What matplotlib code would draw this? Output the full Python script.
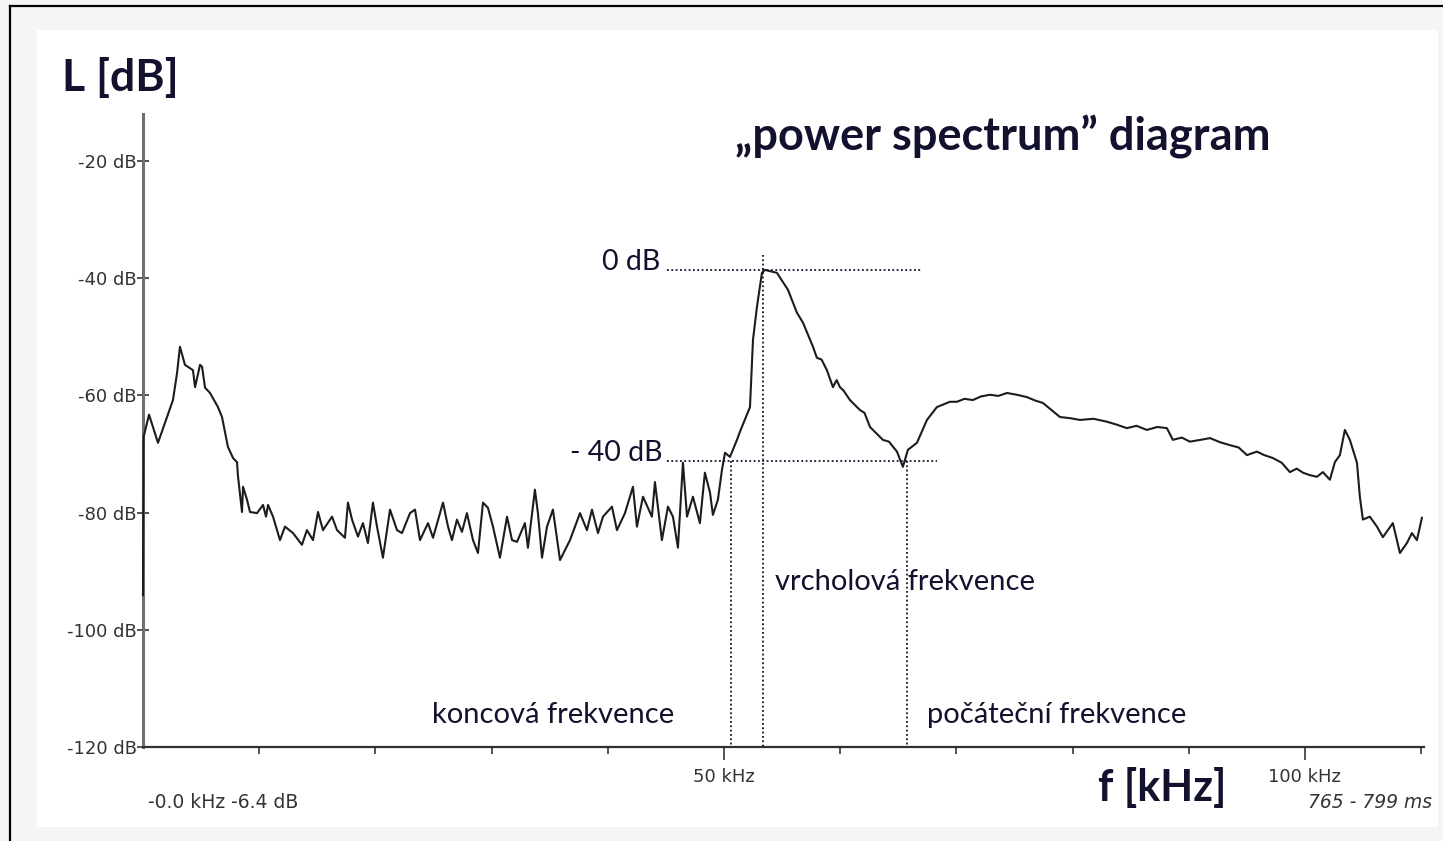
import matplotlib
matplotlib.use("Agg")
from matplotlib import pyplot as plt
from matplotlib.patches import Rectangle
from matplotlib.lines import Line2D

# spectrum: frequency [kHz] and level [dB]
freq_khz = [0.0, 0.05, 0.52, 1.29, 2.58, 2.93, 3.18, 3.61, 4.30, 4.48, 4.91, 5.08, 5.34, 5.77,
            6.45, 6.80, 7.31, 7.75, 8.09, 8.18, 8.52, 8.61, 8.95, 9.21, 9.81, 10.33, 10.59,
            10.76, 11.19, 11.79, 12.22, 12.91, 13.68, 14.11, 14.63, 15.06, 15.49, 16.27,
            16.70, 17.38, 17.64, 17.99, 18.50, 18.93, 19.36, 19.79, 20.14, 20.65, 21.26,
            21.86, 22.29, 22.98, 23.41, 23.84, 24.53, 24.96, 25.82, 26.25, 26.59, 27.02,
            27.45, 27.88, 28.40, 28.83, 29.26, 29.69, 30.12, 30.72, 31.33, 31.76, 32.19,
            32.87, 33.13, 33.73, 33.99, 34.34, 34.77, 35.28, 35.89, 36.75, 37.61, 38.21,
            38.64, 39.16, 39.59, 40.36, 40.79, 41.48, 42.17, 42.51, 43.03, 43.80, 44.06,
            44.66, 45.18, 45.61, 46.04, 46.47, 46.82, 47.33, 47.93, 48.36, 48.80, 49.05,
            49.48, 49.83, 50.09, 50.52, 51.12, 51.38, 52.24, 52.50, 52.84, 53.27, 53.53,
            54.56, 55.51, 56.28, 56.80, 57.66, 58.00, 58.40, 58.86, 59.38, 59.70, 59.98,
            60.30, 60.84, 61.70, 62.10, 62.57, 63.68, 64.20, 64.89, 65.40, 65.83, 66.61,
            67.47, 68.33, 69.45, 70.05, 70.70, 71.43, 72.10, 72.89, 73.60, 74.36, 75.20,
            76.08, 76.80, 77.45, 78.92, 79.80, 80.64, 81.80, 82.96, 83.80, 84.68, 85.50,
            86.40, 87.30, 88.12, 88.64, 89.40, 90.10, 91.00, 91.83, 92.70, 93.55, 94.30,
            95.01, 95.87, 96.50, 97.25, 98.00, 98.71, 99.30, 99.83, 100.40, 101.03,
            101.55, 102.15, 102.58, 103.01, 103.44, 103.87, 104.48, 104.73, 104.99,
            105.59, 106.20, 106.71, 107.57, 108.18, 108.78, 109.21, 109.64, 110.07]
level_db = [-94.1, -67.1, -63.3, -68.1, -60.8, -56.2, -51.7, -54.8, -55.7, -58.6, -54.8, -55.1,
            -58.7, -59.6, -62.0, -63.7, -68.8, -70.7, -71.4, -73.9, -79.9, -75.6, -77.8, -79.9,
            -80.1, -78.7, -80.7, -78.7, -80.7, -84.7, -82.4, -83.5, -85.5, -83.0, -84.7, -79.9,
            -83.0, -80.7, -83.0, -84.3, -78.3, -81.2, -84.1, -81.8, -85.2, -78.3, -82.4, -87.7,
            -79.5, -83.0, -83.5, -80.1, -79.5, -84.7, -81.8, -84.3, -78.3, -82.4, -84.7, -81.2,
            -83.3, -80.1, -84.7, -86.9, -78.3, -79.2, -82.4, -87.7, -80.7, -84.7, -85.0, -81.8,
            -86.0, -76.1, -80.1, -87.7, -82.4, -79.5, -88.1, -84.7, -80.1, -83.0, -79.5, -83.5,
            -80.7, -79.0, -83.0, -80.1, -75.6, -82.4, -77.3, -80.7, -74.8, -84.7, -79.0, -80.7,
            -86.0, -71.5, -80.7, -77.3, -81.8, -73.2, -76.6, -80.4, -77.8, -72.7, -69.8, -70.5,
            -67.6, -66.2, -62.0, -50.5, -44.9, -39.1, -38.6, -39.1, -42.0, -45.9, -47.6, -51.7,
            -53.6, -53.9, -55.7, -58.6, -57.4, -58.6, -59.2, -60.8, -62.5, -63.0, -65.4, -67.6,
            -67.9, -69.6, -72.2, -69.3, -68.1, -64.2, -62.0, -61.1, -61.1, -60.6, -60.8, -60.2,
            -59.9, -60.1, -59.6, -59.9, -60.3, -60.9, -61.3, -63.7, -63.9, -64.2, -64.0, -64.5,
            -65.0, -65.6, -65.2, -65.9, -65.4, -65.6, -67.6, -67.2, -67.9, -67.6, -67.3, -68.0,
            -68.5, -68.9, -70.2, -69.6, -70.2, -70.7, -71.5, -73.1, -72.5, -73.2, -73.6, -73.9,
            -73.1, -74.4, -71.4, -70.2, -65.9, -67.6, -71.5, -77.3, -81.2, -80.7, -82.4, -84.2,
            -81.8, -86.9, -85.2, -83.5, -84.7, -80.9]

y_ticks = [-20, -40, -60, -80, -100, -120]
y_tick_labels = ["-20 dB", "-40 dB", "-60 dB", "-80 dB", "-100 dB", "-120 dB"]
x_major = [50, 100]
x_major_labels = ["50 kHz", "100 kHz"]
x_minor = [10, 20, 30, 40, 60, 70, 80, 90, 110]

# annotation levels / frequencies
peak_db = -38.6
low_db = -71.2
end_khz = 50.6
peak_khz = 53.36
start_khz = 65.75

navy = "#12122e"
ann_font = ["Lato", "DejaVu Sans"]
small_font = "DejaVu Sans"

fig = plt.figure(figsize=(14.43, 8.41), dpi=100, facecolor="#f5f5f5")
W, H = 1443, 841
fig.patches.append(Rectangle((37 / W, 1 - 827 / H), (1438 - 37) / W, (827 - 30) / H,
                             transform=fig.transFigure, facecolor="white", edgecolor="none", zorder=-5))
fig.lines.append(Line2D([10 / W, 10 / W], [0, 1 - 6 / H], transform=fig.transFigure, color="black", lw=1.6))
fig.lines.append(Line2D([10 / W, 1], [1 - 6 / H, 1 - 6 / H], transform=fig.transFigure, color="black", lw=1.6))

ax = fig.add_axes([143 / W, 1 - 747 / H, 1281 / W, 633 / H])
ax.set_facecolor("none")
ax.set_zorder(2)
ax.plot(freq_khz, level_db, color="#1c1c1c", lw=1.5, clip_on=False, zorder=3)
ax.set_xlim(0, 110.25)
ax.set_ylim(-120, -12)

for s in ["top", "right"]:
    ax.spines[s].set_visible(False)
ax.spines["left"].set_color("#707070")
ax.spines["left"].set_linewidth(2.2)
ax.spines["bottom"].set_color("#303030")
ax.spines["bottom"].set_linewidth(1.6)

ax.set_yticks(y_ticks)
ax.set_yticklabels(y_tick_labels, family=small_font, fontsize=13, color="#333333")
ax.tick_params(axis="y", direction="inout", length=9, width=1.3, color="#444444", pad=0)
ax.set_xticks(x_major)
ax.set_xticklabels(x_major_labels, family=small_font, fontsize=13, color="#333333")
ax.set_xticks(x_minor, minor=True)
ax.tick_params(axis="x", which="major", direction="out", length=9, width=1.3, color="#444444", pad=6)
ax.tick_params(axis="x", which="minor", direction="out", length=5, width=1.3, color="#444444")

# dotted guide lines
dot = dict(color=navy, lw=1.3, linestyle=(0, (1, 1.4)), clip_on=False, zorder=4)
ax.plot([45.1, 67.0], [peak_db, peak_db], **dot)
ax.plot([45.1, 68.3], [low_db, low_db], **dot)
ax.plot([peak_khz, peak_khz], [-36.0, -120], **dot)
ax.plot([end_khz, end_khz], [low_db, -120], **dot)
ax.plot([start_khz, start_khz], [low_db, -120], **dot)

ax.text(44.5, -37.3, "0 dB", ha="right", va="center", fontsize=20.5, color=navy, family=ann_font)
ax.text(44.75, -69.8, "- 40 dB", ha="right", va="center", fontsize=20.5, color=navy, family=ann_font)
ax.text(54.4, -91.8, "vrcholová frekvence", ha="left", va="center", fontsize=21, color=navy, family=ann_font)
ax.text(24.9, -114.6, "koncová frekvence", ha="left", va="center", fontsize=21, color=navy, family=ann_font)
ax.text(67.5, -114.6, "počáteční frekvence", ha="left", va="center", fontsize=21, color=navy, family=ann_font)

fig.text(62 / W, 1 - 78 / H, "L [dB]", ha="left", va="center", fontsize=32, fontweight="bold",
         color=navy, family=ann_font)
fig.text(735 / W, 1 - 137 / H, "\u201epower spectrum\u201d diagram", ha="left", va="center", fontsize=32.5,
         fontweight="bold", color=navy, family=ann_font)
fig.text(1098 / W, 1 - 787 / H, "f [kHz]", ha="left", va="center", fontsize=31, fontweight="bold",
         color=navy, family=ann_font)
fig.text(148 / W, 1 - 802 / H, "-0.0 kHz -6.4 dB", ha="left", va="center", fontsize=13.5,
         color="#333333", family=small_font)
fig.text(1432 / W, 1 - 803 / H, "765 - 799 ms", ha="right", va="center", fontsize=13.5,
         color="#333333", family=small_font, style="italic")

plt.savefig("out.png", dpi=100, facecolor=fig.get_facecolor())
plt.close()
